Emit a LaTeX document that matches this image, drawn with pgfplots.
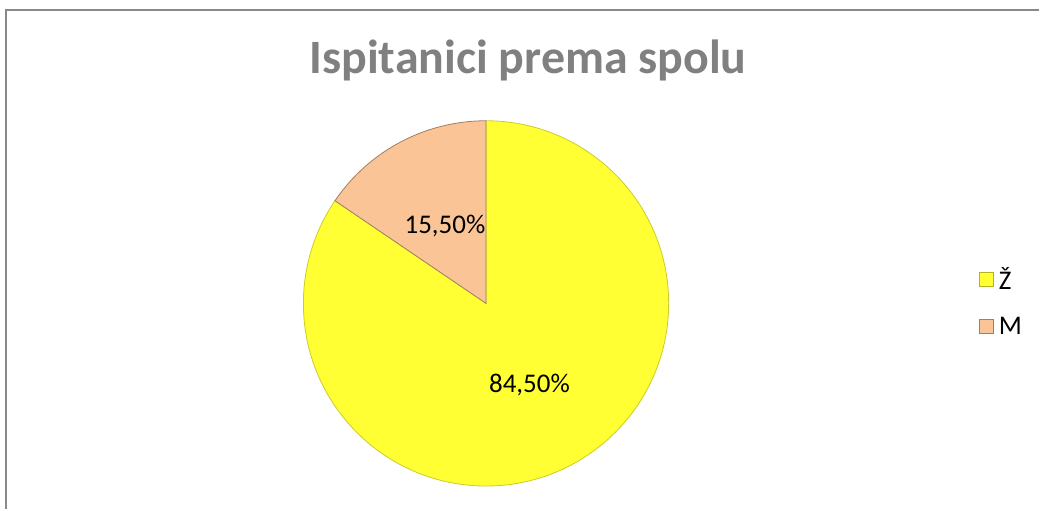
\documentclass[border=0pt]{standalone}
\usepackage{pgfplots}
\usepackage{pgfplotstable}
\pgfplotsset{compat=1.18}
\usetikzlibrary{calc}
\usepackage{fontspec}
\setmainfont{Carlito}
\definecolor{zfill}{RGB}{255,255,51}
\definecolor{mfill}{RGB}{250,196,150}
\definecolor{titlegray}{RGB}{128,128,128}
\definecolor{framegray}{RGB}{137,137,137}
\pgfplotstableread{
value
84.5
15.5
}\pietable
\begin{document}
\begin{tikzpicture}
\pgfplotstablegetelem{0}{value}\of\pietable \let\vZ\pgfplotsretval
\pgfplotstablegetelem{1}{value}\of\pietable \let\vM\pgfplotsretval
\pgfmathsetmacro\aZend{90-3.6*\vZ}
\pgfmathsetmacro\aMend{\aZend-3.6*\vM}
\pgfmathsetmacro\mZ{90-1.8*\vZ}
\pgfmathsetmacro\mM{\aZend-1.8*\vM}
\begin{axis}[
  at={(0,0)}, anchor=origin,
  x=1bp, y=1bp,
  xmin=0, xmax=1040, ymin=0, ymax=510,
  hide axis, clip=false,
  legend style={at={(axis cs:979,208)}, anchor=west, draw=none, fill=none,
    font=\fontsize{27bp}{30bp}\selectfont, row sep=22bp, column sep=3bp,
    cells={anchor=west}, inner sep=2bp},
]
\addlegendimage{legend image code/.code={\draw[fill=zfill, draw=zfill!70!black, line width=0.6bp] (0bp,-7bp) rectangle (14bp,7bp);}}
\addlegendentry{Ž}
\addlegendimage{legend image code/.code={\draw[fill=mfill, draw=mfill!65!black, line width=0.6bp] (0bp,-7bp) rectangle (14bp,7bp);}}
\addlegendentry{M}
% frame
\draw[framegray, line width=2.2bp] (axis cs:6,0) -- (axis cs:6,500) -- (axis cs:1041,500);
% title
\node[anchor=base, text=titlegray, font=\fontsize{48bp}{56bp}\selectfont\bfseries]
  at (axis cs:529,436) {Ispitanici prema spolu};
% slices
\fill[zfill, draw=zfill!80!black, line width=0.8bp]
  (axis cs:487,206) -- ++(90:183bp) arc[start angle=90, end angle=\aZend, radius=183bp] -- cycle;
\fill[mfill, draw=mfill!65!black, line width=0.8bp]
  (axis cs:487,206) -- ++(\aZend:183bp) arc[start angle=\aZend, end angle=\aMend, radius=183bp] -- cycle;
% labels
\node[font=\fontsize{27bp}{30bp}\selectfont] at ($(axis cs:487,206)+(\mZ:93bp)$) {84,50\%};
\node[font=\fontsize{27bp}{30bp}\selectfont] at ($(axis cs:487,206)+(\mM:88bp)$) {15,50\%};
\end{axis}
\useasboundingbox (0,0) rectangle (1040bp,510bp);
\end{tikzpicture}
\end{document}
